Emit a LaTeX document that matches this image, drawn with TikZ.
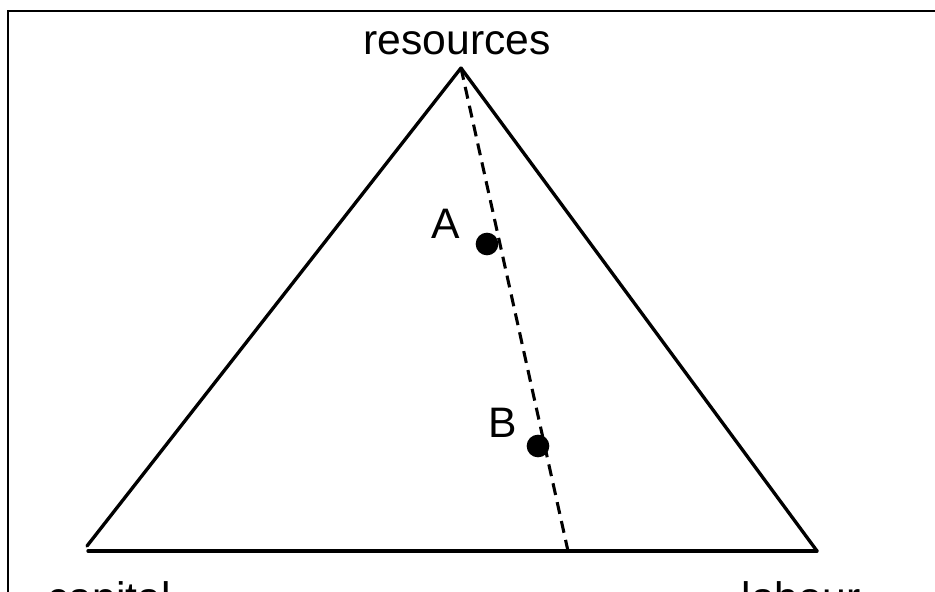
\documentclass[tikz,border=0pt]{standalone}
\usepackage{fontspec}
\setmainfont{Liberation Sans}
\usetikzlibrary{positioning}
\tikzset{
  every node/.style={font=\fontsize{32}{38}\selectfont, inner sep=0pt},
  side/.style={draw=black, line width=2.5pt, line cap=round},
  frameline/.style={draw=black, line width=2pt},
  pathline/.style={draw=black, line width=2.3pt, dash pattern=on 9pt off 5.5pt},
  state/.style={circle, fill=black, minimum size=17pt, inner sep=0pt},
  corner/.style={anchor=base},
}
\begin{document}
\begin{tikzpicture}[x=0.75pt, y=-0.75pt]
  \useasboundingbox (0,0) rectangle (935,592);
  \clip (0,0) rectangle (935,592);

  % ── Frame (only top and left edges fall inside the page) ──
  \draw[frameline] (8,700) -- (8,11) -- (1000,11);

  % ── Triangle corners ──
  \coordinate (top)   at (461,68);
  \coordinate (lfoot) at (87,546);
  \coordinate (bl)    at (88,551);
  \coordinate (br)    at (817,551);
  \coordinate (mid)   at (568,551);

  \draw[side] (top) -- (lfoot);
  \draw[side] (bl) -- (br);
  \draw[side] (top) -- (br);

  % ── Dashed path and its two points ──
  \draw[pathline] (top) -- (mid);
  \node[state] (ptA) at (487,244) {};
  \node[state] (ptB) at (538,446) {};

  % ── Labels ──
  \node[corner] (res) at (457,55)  {resources};
  \node[corner] (labA) at (446,238) {A};
  \node[corner] (labB) at (503,437) {B};
  \node[corner] (cap) at (109,612) {capital};
  \node[corner] (lab) at (801,612) {labour};
\end{tikzpicture}
\end{document}
